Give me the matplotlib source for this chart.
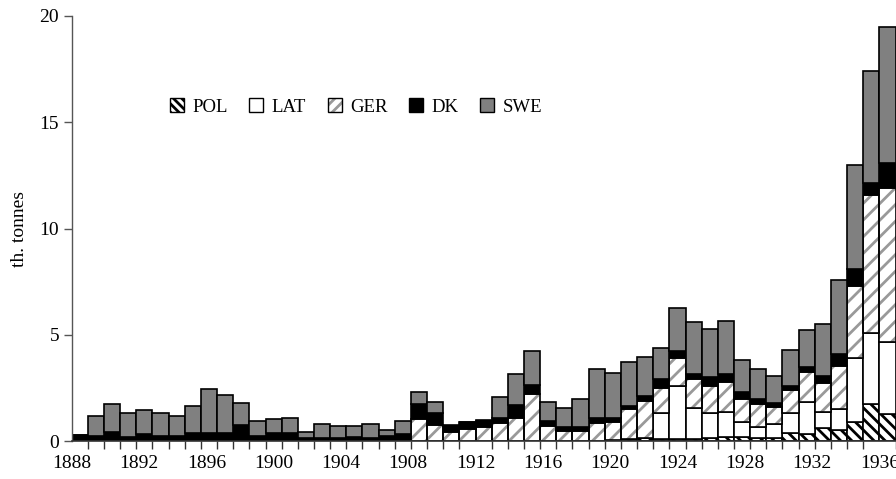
import numpy as np
import matplotlib
matplotlib.use("Agg")
import matplotlib.pyplot as plt
from matplotlib.patches import Patch
from matplotlib.legend_handler import HandlerTuple

years = list(range(1888, 1939))
tick_years = list(range(1888, 1937, 4))

pol = [0, 0, 0, 0, 0, 0, 0, 0, 0, 0,
       0, 0, 0, 0, 0, 0, 0, 0, 0, 0,
       0, 0, 0, 0, 0, 0, 0, 0, 0, 0,
       0, 0, 0, 0, 0.10, 0.12, 0.10, 0.10, 0.10, 0.12,
       0.20, 0.17, 0.12, 0.12, 0.36, 0.33, 0.60, 0.52, 0.91, 1.73,
       1.25]
lat = [0, 0, 0, 0, 0, 0, 0, 0, 0, 0,
       0, 0, 0, 0, 0, 0, 0, 0, 0, 0,
       0, 0, 0, 0, 0, 0, 0, 0, 0, 0,
       0, 0, 0, 0.05, 0, 0.03, 1.20, 2.49, 1.47, 1.18,
       1.15, 0.74, 0.52, 0.66, 0.94, 1.52, 0.75, 0.97, 3.01, 3.34,
       3.39]
ger = [0, 0, 0, 0, 0, 0, 0, 0, 0, 0,
       0, 0, 0, 0, 0, 0, 0, 0, 0, 0,
       0, 1.04, 0.75, 0.41, 0.58, 0.67, 0.83, 1.07, 2.21, 0.71,
       0.49, 0.49, 0.83, 0.85, 1.39, 1.75, 1.18, 1.33, 1.35, 1.29,
       1.44, 1.07, 1.10, 0.84, 1.10, 1.41, 1.36, 2.05, 3.37, 6.53,
       7.28]
dk = [0.30, 0.25, 0.41, 0.20, 0.31, 0.25, 0.25, 0.39, 0.36, 0.39,
      0.75, 0.24, 0.39, 0.39, 0.12, 0.12, 0.12, 0.17, 0.12, 0.24,
      0.31, 0.69, 0.55, 0.31, 0.30, 0.29, 0.24, 0.62, 0.43, 0.25,
      0.18, 0.18, 0.24, 0.18, 0.17, 0.22, 0.42, 0.32, 0.22, 0.44,
      0.36, 0.31, 0.26, 0.18, 0.19, 0.24, 0.36, 0.55, 0.80, 0.55,
      1.18]
swe = [0, 0.93, 1.32, 1.10, 1.15, 1.07, 0.93, 1.26, 2.09, 1.77,
       1.04, 0.70, 0.63, 0.69, 0.32, 0.68, 0.59, 0.54, 0.68, 0.28,
       0.63, 0.56, 0.55, 0.03, 0.02, 0.02, 0.98, 1.46, 1.60, 0.89,
       0.90, 1.33, 2.30, 2.10, 2.06, 1.82, 1.46, 2.03, 2.44, 2.24,
       2.50, 1.52, 1.37, 1.27, 1.69, 1.72, 2.43, 3.49, 4.91, 5.28,
       6.37]

plt.rcParams["font.family"] = ["Liberation Serif", "DejaVu Serif"]
plt.rcParams["hatch.linewidth"] = 2.0

fig = plt.figure(figsize=(8.96, 4.79), dpi=100)
ax = fig.add_axes([0.080, 0.0793, 0.9195, 0.8873])

x = np.arange(len(years))
edge = "black"
lw = 1.2
ger_hatch = "#999999"
bottom = np.zeros(len(years))

ax.bar(x, pol, 1.0, bottom=bottom, align="edge", color="white",
       hatch="\\\\\\", edgecolor=edge, linewidth=lw)
bottom += np.array(pol)
ax.bar(x, lat, 1.0, bottom=bottom, align="edge", color="white",
       edgecolor=edge, linewidth=lw)
bottom += np.array(lat)
# gray hatch first, then a plain black outline on top
ax.bar(x, ger, 1.0, bottom=bottom, align="edge", color="white",
       hatch="//", edgecolor=ger_hatch, linewidth=0)
ax.bar(x, ger, 1.0, bottom=bottom, align="edge", color="none",
       edgecolor=edge, linewidth=lw)
bottom += np.array(ger)
ax.bar(x, dk, 1.0, bottom=bottom, align="edge", color="black",
       edgecolor=edge, linewidth=lw)
bottom += np.array(dk)
ax.bar(x, swe, 1.0, bottom=bottom, align="edge", color="#808080",
       edgecolor=edge, linewidth=lw)

ax.set_xlim(0, len(years))
ax.set_ylim(0, 20)
ax.set_yticks([0, 5, 10, 15, 20])
ax.set_xticks(np.linspace(0, len(years) - 1, len(tick_years)))
ax.set_xticklabels([str(y) for y in tick_years])
ax.set_xticks(np.arange(len(years) + 1), minor=True)
ax.tick_params(axis="x", which="major", length=0, pad=10, labelsize=14)
ax.tick_params(axis="x", which="minor", length=6, width=1.0, color="#333333")
ax.tick_params(axis="y", length=6, width=1.0, color="#555555", labelsize=14, pad=3)

for side in ["top", "right"]:
    ax.spines[side].set_visible(False)
ax.spines["left"].set_color("#555555")
ax.spines["bottom"].set_color("#333333")
ax.spines["left"].set_linewidth(1.0)
ax.spines["bottom"].set_linewidth(1.2)

ax.set_ylabel("th. tonnes", fontsize=14, labelpad=8)

h_pol = Patch(facecolor="white", hatch="\\\\\\\\", edgecolor="black", linewidth=1)
h_lat = Patch(facecolor="white", edgecolor="black", linewidth=1)
h_ger = (Patch(facecolor="white", hatch="///", edgecolor=ger_hatch, linewidth=0),
         Patch(facecolor="none", edgecolor="black", linewidth=1))
h_dk = Patch(facecolor="black", edgecolor="black", linewidth=1)
h_swe = Patch(facecolor="#808080", edgecolor="black", linewidth=1)
ax.legend([h_pol, h_lat, h_ger, h_dk, h_swe], ["POL", "LAT", "GER", "DK", "SWE"],
          handler_map={tuple: HandlerTuple(ndivide=1, pad=0)},
          loc="center left", bbox_to_anchor=(0.11, 0.786), ncol=5, frameon=False,
          fontsize=13.5, handlelength=0.75, handleheight=0.75,
          handletextpad=0.45, columnspacing=1.15, borderaxespad=0)

fig.savefig("out.png", dpi=100)
plt.close(fig)
